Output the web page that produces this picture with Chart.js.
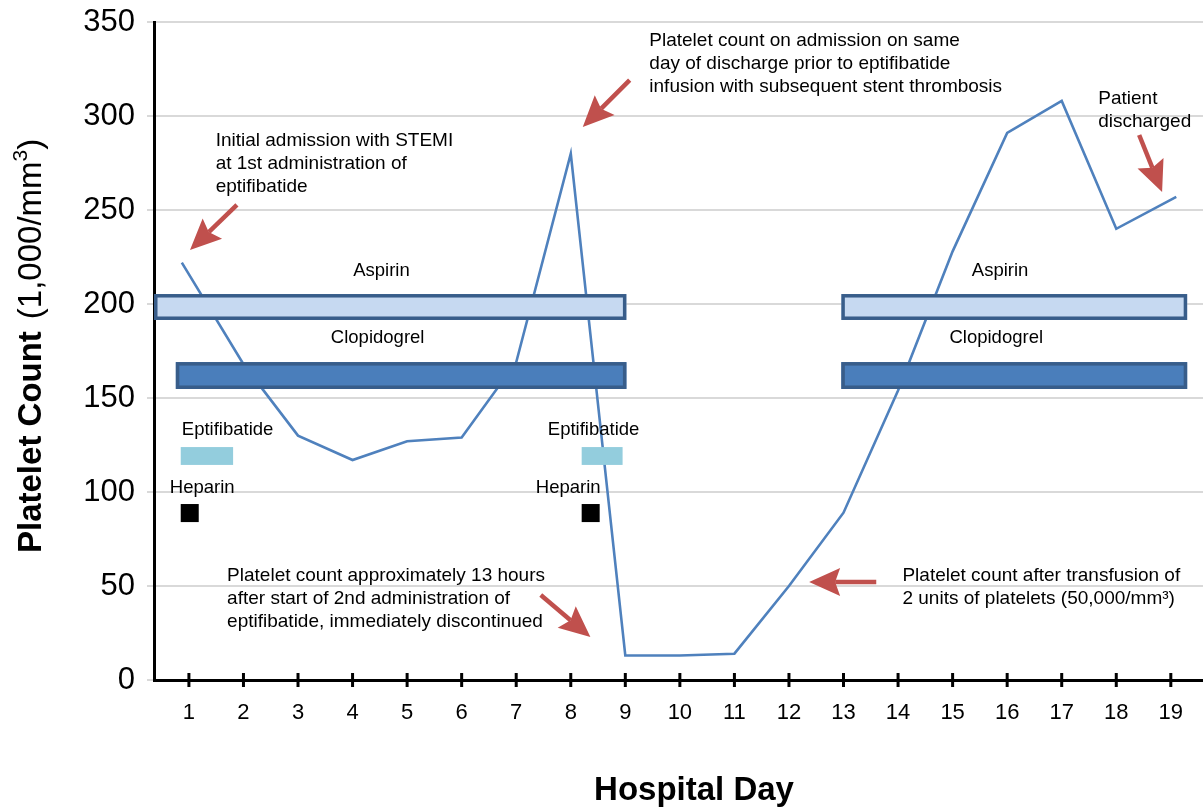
<!DOCTYPE html>
<html lang="en">

<head>
  <meta charset="UTF-8" />
  <meta name="viewport" content="width=device-width, initial-scale=1.0" />
  <title>Platelet count by hospital day</title>
  <style>
    * {
      margin: 0;
      padding: 0;
    }

    body {
      background: #ffffff;
      width: 1203px;
      height: 807px;
      overflow: hidden;
    }

    .chartBox {
      width: 1203px;
      height: 807px;
    }
  </style>
</head>

<body>
  <div class="chartBox">
    <canvas id="myChart" width="1203" height="807"></canvas>
  </div>
  <script src="https://cdn.jsdelivr.net/npm/chart.js@4.4.0/dist/chart.umd.min.js"></script>
  <script>
    const FONT = "'Liberation Sans', Arial, Helvetica, sans-serif";

    // platelet count (1,000/mm3) per hospital day
    const days = [0.87, 2, 3, 4, 5, 6, 7, 8, 9, 10, 11, 12, 13, 14, 15, 16, 17, 18, 19.1];
    const platelets = [222, 168, 130, 117, 127, 129, 169, 280, 13, 13, 14, 50, 89, 154, 228, 291, 308, 240, 257];

    const dayTicks = [1, 2, 3, 4, 5, 6, 7, 8, 9, 10, 11, 12, 13, 14, 15, 16, 17, 18, 19];
    const countTicks = [0, 50, 100, 150, 200, 250, 300, 350];

    // medication periods: [start day, end day], drawn between [low, high] on the count scale
    const aspirinSpans = [[0.36, 9.02], [12.96, 19.3]];
    const aspirinBand = [191.5, 205.3];
    const clopidogrelSpans = [[0.76, 9.02], [12.96, 19.3]];
    const clopidogrelBand = [154.8, 169.1];
    const eptifibatideSpans = [[0.85, 1.81], [8.2, 8.95]];
    const eptifibatideBand = [114.4, 123.9];
    const heparinSpans = [[0.85, 1.18], [8.2, 8.53]];
    const heparinBand = [84.0, 93.6];

    // drug labels: [day, count, text, align]
    const drugLabels = [
      [4.53, 214.9, "Aspirin", "center"],
      [15.87, 214.9, "Aspirin", "center"],
      [4.46, 179.3, "Clopidogrel", "center"],
      [15.8, 179.3, "Clopidogrel", "center"],
      [0.87, 130.3, "Eptifibatide", "left"],
      [7.58, 130.3, "Eptifibatide", "left"],
      [0.65, 99.5, "Heparin", "left"],
      [7.36, 99.5, "Heparin", "left"],
    ];

    // notes: [day, count of first baseline, lines]
    const notes = [
      [1.49, 284.0, ["Initial admission with STEMI", "at 1st administration of", "eptifibatide"]],
      [9.44, 337.2, ["Platelet count on admission on same", "day of discharge prior to eptifibatide", "infusion with subsequent stent thrombosis"]],
      [17.67, 306.4, ["Patient", "discharged"]],
      [1.7, 52.7, ["Platelet count approximately 13 hours", "after start of 2nd administration of", "eptifibatide, immediately discontinued"]],
      [14.08, 52.7, ["Platelet count after transfusion of", "2 units of platelets (50,000/mm\u00b3)"]],
    ];

    // arrows: [from day, from count, to day, to count]
    const arrows = [
      [1.88, 252.7, 1.02, 228.7],
      [9.08, 319.1, 8.22, 294.1],
      [18.42, 289.9, 18.84, 259.6],
      [7.45, 45.2, 8.36, 22.9],
      [13.6, 52.1, 12.37, 52.1],
    ];

    function drawArrow(ctx, x1, y1, x2, y2) {
      const ang = Math.atan2(y2 - y1, x2 - x1);
      const c = Math.cos(ang), s = Math.sin(ang);
      const len = 31, half = 14, notch = 5;
      const bx = x2 - len * c, by = y2 - len * s;
      ctx.strokeStyle = "#c0504d";
      ctx.fillStyle = "#c0504d";
      ctx.lineWidth = 4.5;
      ctx.beginPath();
      ctx.moveTo(x1, y1);
      ctx.lineTo(bx + notch * c, by + notch * s);
      ctx.stroke();
      ctx.beginPath();
      ctx.moveTo(x2, y2);
      ctx.lineTo(bx - half * s, by + half * c);
      ctx.lineTo(bx + notch * c, by + notch * s);
      ctx.lineTo(bx + half * s, by - half * c);
      ctx.closePath();
      ctx.fill();
    }

    function drawBands(chart, spans, band, fill, stroke) {
      const { ctx, scales: { x, y } } = chart;
      const top = y.getPixelForValue(band[1]);
      const bottom = y.getPixelForValue(band[0]);
      spans.forEach(function (span) {
        const left = x.getPixelForValue(span[0]);
        const right = x.getPixelForValue(span[1]);
        ctx.fillStyle = fill;
        ctx.fillRect(left, top, right - left, bottom - top);
        if (stroke) {
          ctx.strokeStyle = stroke;
          ctx.lineWidth = 3.5;
          ctx.strokeRect(left + 1.75, top + 1.75, right - left - 3.5, bottom - top - 3.5);
        }
      });
    }

    const overlay = {
      id: "overlay",
      afterDatasetsDraw(chart) {
        const { ctx, scales: { x, y } } = chart;
        ctx.save();

        // x axis tick marks crossing the axis line
        const y0 = y.getPixelForValue(0);
        ctx.strokeStyle = "#000000";
        ctx.lineWidth = 3;
        dayTicks.forEach(function (d) {
          const px = x.getPixelForValue(d);
          ctx.beginPath();
          ctx.moveTo(px, y0 - 7);
          ctx.lineTo(px, y0 + 7);
          ctx.stroke();
        });

        drawBands(chart, aspirinSpans, aspirinBand, "#c6d9f1", "#385d8a");
        drawBands(chart, clopidogrelSpans, clopidogrelBand, "#4a7ebb", "#385d8a");
        drawBands(chart, eptifibatideSpans, eptifibatideBand, "#93cddd", null);
        drawBands(chart, heparinSpans, heparinBand, "#000000", null);

        ctx.fillStyle = "#000000";
        ctx.font = "18.5px " + FONT;
        ctx.textBaseline = "alphabetic";
        drugLabels.forEach(function (l) {
          ctx.textAlign = l[3];
          ctx.fillText(l[2], x.getPixelForValue(l[0]), y.getPixelForValue(l[1]));
        });

        ctx.font = "19px " + FONT;
        ctx.textAlign = "left";
        notes.forEach(function (n) {
          const px = x.getPixelForValue(n[0]);
          const py = y.getPixelForValue(n[1]);
          n[2].forEach(function (line, i) {
            ctx.fillText(line, px, py + i * 22.8);
          });
        });

        arrows.forEach(function (a) {
          drawArrow(ctx, x.getPixelForValue(a[0]), y.getPixelForValue(a[1]),
            x.getPixelForValue(a[2]), y.getPixelForValue(a[3]));
        });

        // axis titles
        ctx.fillStyle = "#000000";
        ctx.textAlign = "center";
        ctx.font = "bold 33px " + FONT;
        ctx.fillText("Hospital Day", 694, 800);

        ctx.translate(41, 553);
        ctx.rotate(-Math.PI / 2);
        ctx.textAlign = "left";
        ctx.font = "bold 33px " + FONT;
        ctx.fillText("Platelet Count", 0, 0);
        let w = ctx.measureText("Platelet Count").width + 12;
        ctx.font = "33px " + FONT;
        ctx.fillText("(1,000/mm", w, 0);
        w += ctx.measureText("(1,000/mm").width;
        ctx.font = "21px " + FONT;
        ctx.fillText("3", w, -14);
        w += ctx.measureText("3").width;
        ctx.font = "33px " + FONT;
        ctx.fillText(")", w, 0);

        ctx.restore();
      },
    };

    const data = {
      datasets: [
        {
          label: "Platelet count",
          data: days.map(function (d, i) {
            return { x: d, y: platelets[i] };
          }),
          borderColor: "#4f81bd",
          borderWidth: 2.6,
          pointRadius: 0,
          tension: 0,
          fill: false,
        },
      ],
    };

    const options = {
      responsive: false,
      animation: false,
      layout: {
        padding: { top: 22, right: 0, bottom: 0, left: 0 },
      },
      plugins: {
        legend: { display: false },
        tooltip: { enabled: false },
      },
      scales: {
        x: {
          type: "linear",
          min: 0.36,
          max: 19.59,
          afterBuildTicks: function (scale) {
            scale.ticks = dayTicks.map(function (v) {
              return { value: v };
            });
          },
          afterFit: function (scale) {
            scale.height = 127;
            scale.paddingLeft = 0;
            scale.paddingRight = 0;
          },
          grid: {
            display: true,
            drawOnChartArea: false,
            drawTicks: false,
            color: "rgba(0,0,0,0)",
          },
          border: { color: "#000000", width: 3 },
          ticks: {
            padding: 20,
            color: "#000000",
            font: { size: 22, family: FONT },
            maxRotation: 0,
            autoSkip: false,
          },
        },
        y: {
          type: "linear",
          min: 0,
          max: 350,
          afterBuildTicks: function (scale) {
            scale.ticks = countTicks.map(function (v) {
              return { value: v };
            });
          },
          afterFit: function (scale) {
            scale.width = 154;
            scale.paddingTop = 0;
            scale.paddingBottom = 0;
          },
          grid: {
            color: "#d9d9d9",
            lineWidth: 2,
            tickLength: 7,
          },
          border: { color: "#000000", width: 3 },
          ticks: {
            padding: 12,
            color: "#000000",
            font: { size: 31, family: FONT },
          },
        },
      },
    };

    const config = {
      type: "line",
      data: data,
      options: options,
      plugins: [overlay],
    };

    const ctx = document.getElementById("myChart").getContext("2d");
    const myChart = new Chart(ctx, config);
  </script>
</body>

</html>
